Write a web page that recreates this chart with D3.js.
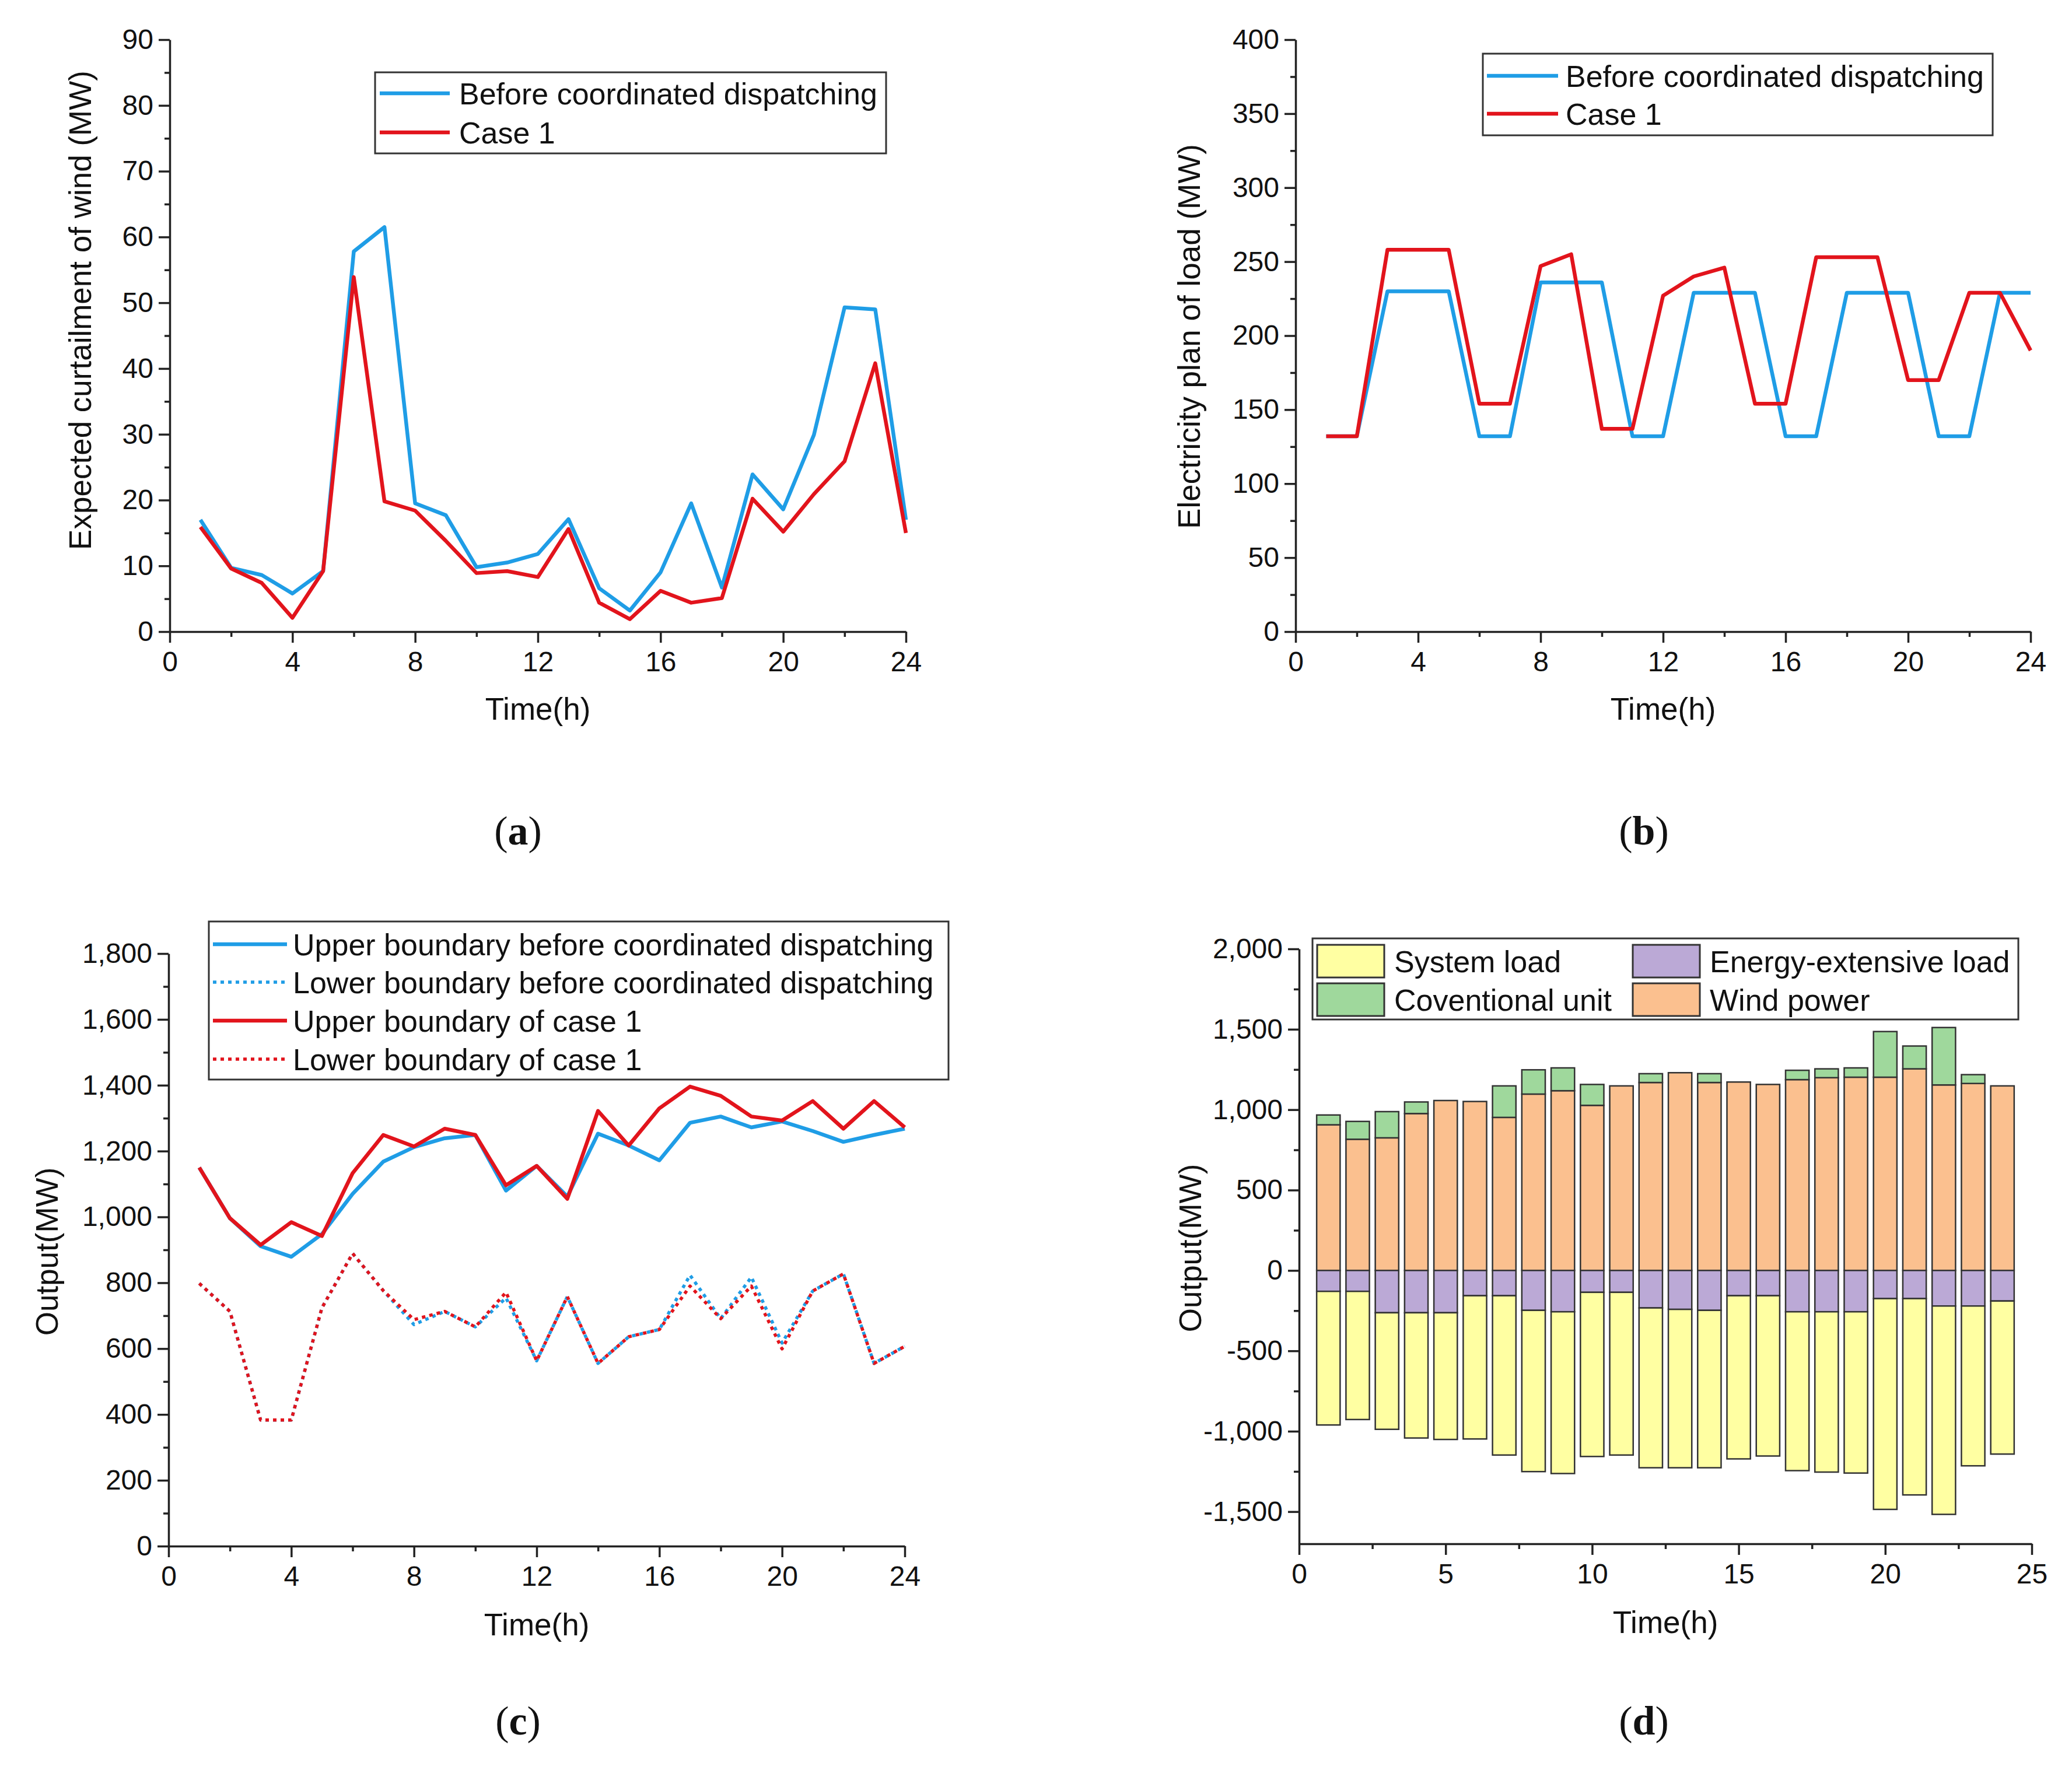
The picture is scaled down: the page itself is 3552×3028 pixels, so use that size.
<!DOCTYPE html>
<html>
<head>
<meta charset="utf-8">
<script src="https://cdn.jsdelivr.net/npm/d3@7/dist/d3.min.js"></script>
<style>
  body { margin: 0; background: #fff; }
  svg { display: block; }
  text { font-family: "Liberation Sans", Arial, sans-serif; fill: #111; }
  .lab text, text.lab { font-family: "Liberation Serif", "Times New Roman", serif; }
</style>
</head>
<body>
<div id="chart"></div>
<script>
// ---- data ----
const hours = [1, 2, 3, 4, 5, 6, 7, 8, 9, 10, 11, 12, 13, 14, 15, 16, 17, 18, 19, 20, 21, 22, 23, 24];

// (a) expected curtailment of wind (MW)
const curtailBefore = [17.0, 9.7, 8.6, 5.8, 9.2, 57.8, 61.5, 19.5, 17.7, 9.8, 10.5, 11.8, 17.1, 6.6, 3.2, 9.0, 19.5, 6.7, 23.9, 18.6, 29.9, 49.3, 49.0, 17.0];
const curtailCase1 = [15.9, 9.6, 7.4, 2.1, 9.2, 53.9, 19.8, 18.4, 13.8, 8.9, 9.2, 8.3, 15.6, 4.4, 1.9, 6.2, 4.4, 5.1, 20.2, 15.2, 20.9, 25.9, 40.8, 15.0];

// (b) electricity plan of load (MW)
const loadBefore = [132, 132, 230, 230, 230, 132, 132, 236, 236, 236, 132, 132, 229, 229, 229, 132, 132, 229, 229, 229, 132, 132, 229, 229];
const loadCase1 = [132, 132, 258, 258, 258, 154, 154, 247, 255, 137, 137, 227, 240, 246, 154, 154, 253, 253, 253, 170, 170, 229, 229, 190];

// (c) output boundaries (MW)
const upperBefore = [1150, 996, 911, 879, 948, 1070, 1168, 1212, 1239, 1249, 1080, 1155, 1062, 1253, 1217, 1172, 1286, 1305, 1272, 1290, 1261, 1228, 1249, 1268];
const lowerBefore = [798, 713, 383, 383, 724, 889, 776, 673, 713, 666, 754, 563, 758, 555, 636, 658, 823, 691, 817, 617, 775, 827, 555, 607];
const upperCase1 = [1150, 996, 915, 984, 942, 1133, 1249, 1214, 1268, 1249, 1096, 1155, 1055, 1322, 1217, 1330, 1396, 1368, 1305, 1293, 1352, 1268, 1352, 1272];
const lowerCase1 = [798, 713, 383, 383, 724, 889, 776, 688, 713, 666, 771, 563, 758, 555, 636, 658, 790, 691, 790, 599, 775, 827, 555, 607];

// (d) power balance (MW), stacked
const windPower = [906, 816, 825, 976, 1057, 1051, 952, 1097, 1118, 1027, 1148, 1169, 1230, 1169, 1172, 1157, 1187, 1199, 1202, 1202, 1254, 1154, 1163, 1148];
const conventionalUnit = [61, 111, 163, 72, 0, 0, 196, 151, 142, 130, 0, 55, 0, 55, 0, 0, 58, 55, 58, 284, 142, 357, 55, 0];
const energyExtensiveLoad = [-130, -130, -263, -263, -263, -157, -157, -248, -257, -136, -136, -233, -242, -248, -157, -157, -257, -257, -257, -175, -175, -221, -221, -190];
const systemLoad = [-831, -797, -725, -779, -788, -891, -991, -1003, -1006, -1021, -1012, -994, -985, -979, -1015, -997, -988, -997, -1003, -1311, -1221, -1296, -994, -952];

// tick labels
const timeTicks = [0, 4, 8, 12, 16, 20, 24];
const timeTicksD = [0, 5, 10, 15, 20, 25];
const curtailTicks = [0, 10, 20, 30, 40, 50, 60, 70, 80, 90];
const loadTicks = [0, 50, 100, 150, 200, 250, 300, 350, 400];
const outputTicks = [0, 200, 400, 600, 800, 1000, 1200, 1400, 1600, 1800];
const balanceTicks = [-1500, -1000, -500, 0, 500, 1000, 1500, 2000];

const BLUE = "#1f9de6", RED = "#e2141c";
const colors = { sys: "#ffffa2", ee: "#bba9d6", conv: "#9fd89c", wind: "#fbc08f" };

const W = 3552, H = 3028;
const svg = d3.select("#chart").append("svg")
  .attr("width", W).attr("height", H);
svg.append("rect").attr("width", W).attr("height", H).attr("fill", "#fff");

const fmt = d3.formatLocale({ decimal: ".", thousands: ",", grouping: [3], currency: ["", ""], minus: "-" }).format(",");

// draws axes for one panel and returns scales
function panel(o) {
  const x = d3.scaleLinear().domain(o.xDomain).range([o.x0, o.x1]);
  const y = d3.scaleLinear().domain(o.yDomain).range([o.yBot, o.yTop]);

  const styleAxis = g => {
    g.attr("color", "#222");
    g.selectAll("path, line").attr("stroke-width", 3.5);
    g.selectAll("text").attr("font-size", 48).attr("fill", "#111")
      .style("font-family", "'Liberation Sans', Arial, sans-serif");
  };

  // minor ticks
  svg.append("g").attr("transform", `translate(0,${o.yBot})`)
    .call(d3.axisBottom(x).tickValues(o.xMinor).tickSize(9).tickFormat(""))
    .call(styleAxis).select(".domain").remove();
  svg.append("g").attr("transform", `translate(${o.x0},0)`)
    .call(d3.axisLeft(y).tickValues(o.yMinor).tickSize(9).tickFormat(""))
    .call(styleAxis).select(".domain").remove();

  // major ticks
  svg.append("g").attr("transform", `translate(0,${o.yBot})`)
    .call(d3.axisBottom(x).tickValues(o.xTicks).tickSize(19).tickSizeOuter(0).tickPadding(15))
    .call(styleAxis);
  svg.append("g").attr("transform", `translate(${o.x0},0)`)
    .call(d3.axisLeft(y).tickValues(o.yTicks).tickSize(19).tickSizeOuter(0).tickPadding(9)
      .tickFormat(o.yFormat || (d => d)))
    .call(styleAxis);

  // axis titles
  svg.append("text")
    .attr("x", (o.x0 + o.x1) / 2).attr("y", o.xTitleY)
    .attr("text-anchor", "middle").attr("font-size", 53)
    .text("Time(h)");
  svg.append("text")
    .attr("transform", `translate(${o.yTitleX},${o.yTitleY}) rotate(-90)`)
    .attr("dy", "0.35em")
    .attr("text-anchor", "middle").attr("font-size", 53)
    .text(o.yTitle);

  // sub-figure label
  const lab = svg.append("text").attr("class", "lab")
    .attr("x", o.labX).attr("y", o.labY)
    .attr("text-anchor", "middle").attr("font-size", 70);
  lab.append("tspan").text("(");
  lab.append("tspan").attr("font-weight", "bold").text(o.label);
  lab.append("tspan").text(")");

  return { x, y };
}

function drawLine(s, values, color, dashed) {
  const line = d3.line()
    .x((d, i) => s.x(hours[i]))
    .y(d => s.y(d));
  svg.append("path")
    .datum(values)
    .attr("fill", "none")
    .attr("stroke", color)
    .attr("stroke-width", dashed ? 5.5 : 6.5)
    .attr("stroke-linejoin", "round")
    .attr("stroke-dasharray", dashed ? "6 7" : null)
    .attr("d", line);
}

function lineLegend(box, items) {
  svg.append("rect")
    .attr("x", box.x).attr("y", box.y).attr("width", box.w).attr("height", box.h)
    .attr("fill", "#fff").attr("stroke", "#333").attr("stroke-width", 3);
  items.forEach((it, i) => {
    const cy = box.rows[i];
    svg.append("line")
      .attr("x1", box.lx0).attr("x2", box.lx1).attr("y1", cy).attr("y2", cy)
      .attr("stroke", it.color).attr("stroke-width", it.dashed ? 5.5 : 6.5)
      .attr("stroke-dasharray", it.dashed ? "6 7" : null);
    svg.append("text")
      .attr("x", box.tx).attr("y", cy).attr("dy", "0.36em")
      .attr("font-size", 52).text(it.name);
  });
}

// ---- (a) ----
const sa = panel({
  x0: 291, x1: 1553, yTop: 68, yBot: 1083,
  xDomain: [0, 24], yDomain: [0, 90],
  xTicks: timeTicks, xMinor: d3.range(2, 24, 4),
  yTicks: curtailTicks, yMinor: d3.range(5, 90, 10),
  xTitleY: 1234, yTitleX: 137, yTitleY: 532,
  yTitle: "Expected curtailment of wind (MW)",
  label: "a", labX: 888, labY: 1448
});
drawLine(sa, curtailBefore, BLUE, false);
drawLine(sa, curtailCase1, RED, false);
lineLegend({ x: 643, y: 124, w: 876, h: 139, rows: [160, 227], lx0: 651, lx1: 771, tx: 787 },
  [{ name: "Before coordinated dispatching", color: BLUE }, { name: "Case 1", color: RED }]);

// ---- (b) ----
const sb = panel({
  x0: 2221, x1: 3481, yTop: 68, yBot: 1083,
  xDomain: [0, 24], yDomain: [0, 400],
  xTicks: timeTicks, xMinor: d3.range(2, 24, 4),
  yTicks: loadTicks, yMinor: d3.range(25, 400, 50),
  xTitleY: 1234, yTitleX: 2038, yTitleY: 577,
  yTitle: "Electricity plan of load (MW)",
  label: "b", labX: 2818, labY: 1448
});
drawLine(sb, loadBefore, BLUE, false);
drawLine(sb, loadCase1, RED, false);
lineLegend({ x: 2542, y: 92, w: 874, h: 140, rows: [130, 195], lx0: 2549, lx1: 2671, tx: 2684 },
  [{ name: "Before coordinated dispatching", color: BLUE }, { name: "Case 1", color: RED }]);

// ---- (c) ----
const sc = panel({
  x0: 289, x1: 1551, yTop: 1635, yBot: 2651,
  xDomain: [0, 24], yDomain: [0, 1800],
  xTicks: timeTicks, xMinor: d3.range(2, 24, 4),
  yTicks: outputTicks, yMinor: d3.range(100, 1800, 200),
  yFormat: fmt,
  xTitleY: 2804, yTitleX: 80, yTitleY: 2146,
  yTitle: "Output(MW)",
  label: "c", labX: 888, labY: 2974
});
drawLine(sc, upperBefore, BLUE, false);
drawLine(sc, lowerBefore, BLUE, true);
drawLine(sc, upperCase1, RED, false);
drawLine(sc, lowerCase1, RED, true);
lineLegend({ x: 358, y: 1580, w: 1268, h: 271, rows: [1619, 1684, 1750, 1816], lx0: 365, lx1: 492, tx: 502 },
  [{ name: "Upper boundary before coordinated dispatching", color: BLUE },
   { name: "Lower boundary before coordinated dispatching", color: BLUE, dashed: true },
   { name: "Upper boundary of case 1", color: RED },
   { name: "Lower boundary of case 1", color: RED, dashed: true }]);

// ---- (d) ----
const sd = panel({
  x0: 2227, x1: 3483, yTop: 1627, yBot: 2647,
  xDomain: [0, 25], yDomain: [-1700, 2000],
  xTicks: timeTicksD, xMinor: d3.range(2.5, 25, 5),
  yTicks: balanceTicks, yMinor: d3.range(-1250, 2000, 500),
  yFormat: fmt,
  xTitleY: 2800, yTitleX: 2040, yTitleY: 2140,
  yTitle: "Output(MW)",
  label: "d", labX: 2818, labY: 2974
});

const rows = hours.map((h, i) => ({
  hour: h,
  wind: windPower[i],
  conv: conventionalUnit[i],
  ee: energyExtensiveLoad[i],
  sys: systemLoad[i]
}));
const stack = d3.stack()
  .keys(["wind", "conv", "ee", "sys"])
  .offset(d3.stackOffsetDiverging);
const series = stack(rows);
const barW = sd.x(0.8) - sd.x(0);

svg.append("g").selectAll("g")
  .data(series)
  .join("g")
  .attr("fill", d => colors[d.key])
  .selectAll("rect")
  .data(d => d.filter(p => p[1] !== p[0]))
  .join("rect")
  .attr("x", d => sd.x(d.data.hour) - barW / 2)
  .attr("width", barW)
  .attr("y", d => sd.y(Math.max(d[0], d[1])))
  .attr("height", d => Math.abs(sd.y(d[0]) - sd.y(d[1])))
  .attr("stroke", "#333")
  .attr("stroke-width", 2.5);

// legend of (d)
const lgX = 2250, lgY = 1609;
svg.append("rect")
  .attr("x", lgX).attr("y", lgY).attr("width", 1210).attr("height", 139)
  .attr("fill", "#fff").attr("stroke", "#333").attr("stroke-width", 3);
const barLegend = [
  { key: "sys", name: "System load", col: 0, row: 0 },
  { key: "ee", name: "Energy-extensive load", col: 1, row: 0 },
  { key: "conv", name: "Coventional unit", col: 0, row: 1 },
  { key: "wind", name: "Wind power", col: 1, row: 1 }
];
barLegend.forEach(it => {
  const sx = lgX + 8 + it.col * 541, sy = lgY + 11 + it.row * 66;
  svg.append("rect")
    .attr("x", sx).attr("y", sy).attr("width", 115).attr("height", 56)
    .attr("fill", colors[it.key]).attr("stroke", "#333").attr("stroke-width", 3);
  svg.append("text")
    .attr("x", sx + 132).attr("y", sy + 28).attr("dy", "0.36em")
    .attr("font-size", 52).text(it.name);
});
</script>
</body>
</html>
